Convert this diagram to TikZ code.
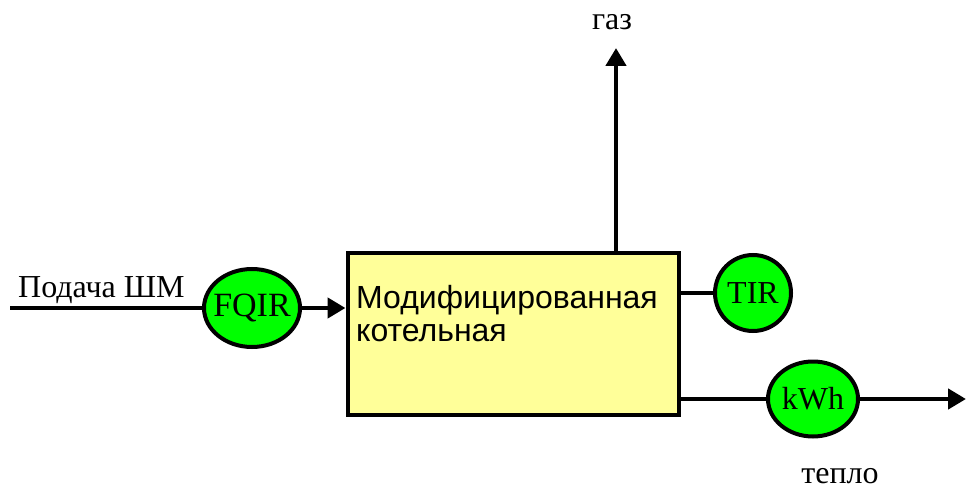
\documentclass[tikz,border=0pt]{standalone}
\usepackage{fontspec}
\setmainfont{Liberation Serif}
\newfontfamily\boxfont{Liberation Sans}
\usetikzlibrary{arrows.meta,shapes.geometric}
\definecolor{boxyellow}{RGB}{255,255,153}
\definecolor{sensgreen}{RGB}{0,255,0}
\tikzset{
  flow/.style={line width=4.5pt},
  arr/.style={flow,-{Triangle[length=18pt,width=20pt]}},
  sensor/.style={ellipse,draw,line width=4pt,fill=sensgreen,inner sep=0pt,font=\fontsize{32}{34}\selectfont},
  lbl/.style={font=\fontsize{32}{34}\selectfont,inner sep=0pt},
}
\begin{document}
\begin{tikzpicture}[x=1pt,y=-1pt]
\useasboundingbox (0,0) rectangle (966,489);
\node[draw,line width=4pt,fill=boxyellow,minimum width=331pt,minimum height=162pt,inner sep=0pt,anchor=north west] (box) at (345.5,250.5) {};
\node[anchor=west,align=left,inner sep=0pt,font=\boxfont\fontsize{32}{33}\selectfont] (boxtxt) at (356,314) {Модифицированная\\котельная};
\node[sensor,minimum width=96pt,minimum height=78pt] (fqir) at (252,308) {\makebox[0pt]{\fontsize{34}{36}\selectfont FQIR}};
\node[sensor,minimum width=76pt,minimum height=76pt] (tir) at (753,293) {\makebox[0pt]{TIR}};
\node[sensor,minimum width=90pt,minimum height=75pt] (kwh) at (813,399) {\makebox[0pt]{kWh}};
\coordinate (in) at (10,308);
\coordinate (gastop) at (616,48);
\coordinate (heatend) at (966,399);
\node[lbl,anchor=base west] (podacha) at (18,297) {Подача ШМ};
\node[lbl] (gaz) at (612,22) {газ};
\node[lbl] (teplo) at (840,476) {тепло};
\draw[flow] (in) -- (fqir.west);
\draw[arr] (fqir.east) -- (box.west |- fqir.east);
\draw[arr] (box.north -| gastop) -- (gastop);
\draw[flow] (box.east |- tir.west) -- (tir.west);
\draw[flow] (box.east |- kwh.west) -- (kwh.west);
\draw[arr] (kwh.east) -- (heatend);
\end{tikzpicture}
\end{document}
